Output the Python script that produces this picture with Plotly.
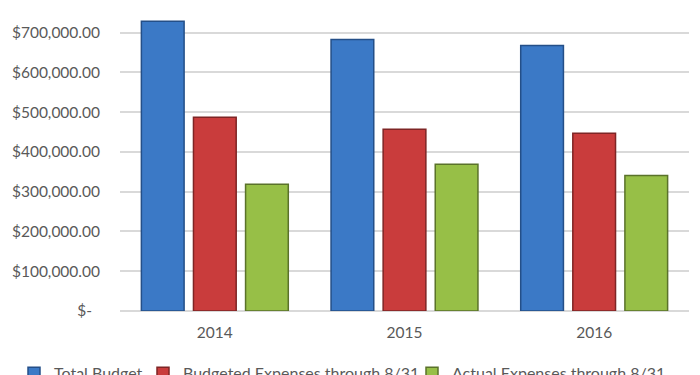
import plotly.graph_objects as go

years = ["2014", "2015", "2016"]
total_budget = [729000, 683000, 668000]
budgeted_exp = [487000, 457000, 447000]
actual_exp = [319000, 369000, 341000]
series_names = ["Total Budget", "Budgeted Expenses through 8/31", "Actual Expenses through 8/31"]
tick_vals = [0, 100000, 200000, 300000, 400000, 500000, 600000, 700000]
tick_text = ["$-\u00a0\u00a0", "$100,000.00", "$200,000.00", "$300,000.00", "$400,000.00",
             "$500,000.00", "$600,000.00", "$700,000.00"]

fills = ["#3b79c6", "#c93c3c", "#97bf47"]
lines = ["#244f88", "#7e2525", "#5a722a"]
legend_ids = ["legend", "legend2", "legend3"]
legend_x = [14 / 700, 143 / 700, 412 / 700]

fig = go.Figure()
for name, vals, fc, lc, lid in zip(series_names, [total_budget, budgeted_exp, actual_exp],
                                   fills, lines, legend_ids):
    fig.add_trace(go.Bar(
        x=years, y=vals, name=name, legend=lid,
        marker=dict(color=fc, line=dict(color=lc, width=1.5)),
    ))

font = "Lato, 'Open Sans', sans-serif"
legend_common = dict(orientation="h", yref="container", xref="container",
                     xanchor="left", y=0.05, yanchor="top", bgcolor="rgba(0,0,0,0)",
                     font=dict(size=16, color="#595959"), itemwidth=30)

fig.update_layout(
    width=700, height=375,
    margin=dict(l=120, r=11, t=10, b=64, autoexpand=False),
    paper_bgcolor="white", plot_bgcolor="white",
    barmode="group", bargap=0.176, bargroupgap=0.18,
    font=dict(family=font, size=15.5, color="#595959"),
    showlegend=True,
    legend=dict(x=legend_x[0], **legend_common),
    legend2=dict(x=legend_x[1], **legend_common),
    legend3=dict(x=legend_x[2], **legend_common),
    xaxis=dict(showgrid=False, showline=False, ticks="", tickfont=dict(size=15.5),
               ticklabelstandoff=10),
    yaxis=dict(range=[0, 757000], tickvals=tick_vals, ticktext=tick_text,
               showgrid=True, gridcolor="#d9d9d9", gridwidth=2,
               zeroline=True, zerolinecolor="#d9d9d9", zerolinewidth=2,
               showline=False, ticks="", ticklabelstandoff=19),
)

fig.write_html("out.html", config={"displayModeBar": False},
               post_script="document.body.style.margin='0';document.body.style.overflow='hidden';")
